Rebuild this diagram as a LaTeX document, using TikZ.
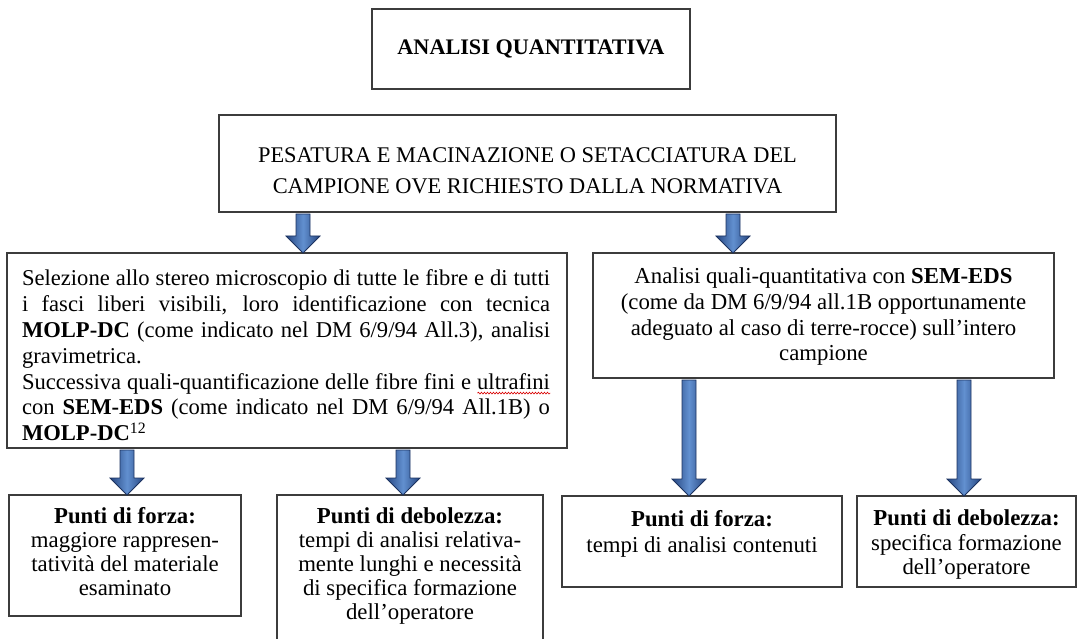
\documentclass[tikz,border=0pt]{standalone}
\usepackage{fontspec}
\setmainfont{Liberation Serif}
\usetikzlibrary{calc,decorations.pathmorphing}
\definecolor{boxgray}{RGB}{60,60,60}
\definecolor{arrowlight}{RGB}{98,144,208}
\definecolor{arrowedge}{RGB}{38,70,128}
\definecolor{arrowline}{RGB}{28,50,95}
\newsavebox{\wavebox}
\newcommand{\redwave}[1]{\sbox{\wavebox}{#1}\rlap{\tikz[baseline=0pt,x=1pt,y=1pt]{\draw[red!85!black,line width=0.6pt,decorate,decoration={snake,amplitude=0.9pt,segment length=3pt}] (0,-4) -- (\wd\wavebox,-4);}}\usebox{\wavebox}}
\newcommand{\blockarrow}[2]{%
  \draw[barrow] ($(#1)+(-7,0)$) -- ($(#2)+(-7,-17)$) -- ($(#2)+(-17,-17)$) -- (#2)
    -- ($(#2)+(17,-17)$) -- ($(#2)+(7,-17)$) -- ($(#1)+(7,0)$) -- cycle;}
\tikzset{
  box/.style={draw=boxgray, line width=1.3pt, fill=white, inner sep=0pt, outer sep=0pt, anchor=north west},
  txt/.style={inner sep=0pt, outer sep=0pt, align=center, font=\fontsize{22.8}{24.5}\selectfont},
  barrow/.style={draw=arrowline, line width=0.8pt, left color=arrowedge, right color=arrowedge, middle color=arrowlight},
}
\begin{document}
\begin{tikzpicture}[x=1pt,y=-1pt]
\useasboundingbox (0,0) rectangle (1077,639);
\clip (0,0) rectangle (1077,639);
% boxes
\node[box, minimum width=318pt, minimum height=80pt] (top) at (372,9) {};
\node[box, minimum width=617pt, minimum height=97pt] (pes) at (219,115) {};
\node[box, minimum width=560pt, minimum height=195pt] (sel) at (7,253) {};
\node[box, minimum width=461pt, minimum height=125pt] (sem) at (593,253) {};
\node[box, minimum width=232pt, minimum height=121pt] (f1) at (9,495) {};
\node[box, minimum width=266pt, minimum height=155pt] (d1) at (277,495) {};
\node[box, minimum width=280pt, minimum height=91pt] (f2) at (562,496) {};
\node[box, minimum width=219pt, minimum height=91pt] (d2) at (857,496) {};
% texts
\node[txt, font=\fontsize{22.2}{24.5}\selectfont] (toptxt) at (top.center) {\textbf{ANALISI QUANTITATIVA}};
\node[txt, font=\fontsize{22.4}{31}\selectfont] (pestxt) at ($(pes.center)+(0,7)$)
  {PESATURA E MACINAZIONE O SETACCIATURA DEL\\CAMPIONE OVE RICHIESTO DALLA NORMATIVA};
\node[txt, anchor=north west, text width=528pt, align=justify, font=\fontsize{22.6}{25.8}\selectfont] (seltxt) at (22,270)
  {Selezione allo stereo microscopio di tutte le fibre e di tutti\linebreak
   i fasci liberi visibili, loro identificazione con tecnica\linebreak
   \textbf{MOLP-DC} (come indicato nel DM 6/9/94 All.3), analisi\linebreak
   gravimetrica.\\
   Successiva quali-quantificazione delle fibre fini e \redwave{ultrafini}\linebreak
   con \textbf{SEM-EDS} (come indicato nel DM 6/9/94 All.1B) o\linebreak
   \textbf{MOLP-DC}\textsuperscript{12}};
\node[txt, anchor=north, font=\fontsize{22.8}{25.7}\selectfont] (semtxt) at ($(sem.north)+(0,15)$)
  {Analisi quali-quantitativa con \textbf{SEM-EDS}\\
   (come da DM 6/9/94 all.1B opportunamente\\
   adeguato al caso di terre-rocce) sull’intero\\
   campione};
\node[txt, anchor=north, font=\fontsize{22.8}{24}\selectfont] (f1txt) at ($(f1.north)+(0,12)$)
  {\textbf{Punti di forza:}\\maggiore rappresen-\\tatività del materiale\\esaminato};
\node[txt, anchor=north, font=\fontsize{22.8}{24}\selectfont] (d1txt) at ($(d1.north)+(0,13)$)
  {\textbf{Punti di debolezza:}\\tempi di analisi relativa-\\mente lunghi e necessità\\di specifica formazione\\dell’operatore};
\node[txt, anchor=north, font=\fontsize{22.8}{26}\selectfont] (f2txt) at ($(f2.north)+(0,14)$)
  {\textbf{Punti di forza:}\\tempi di analisi contenuti};
\node[txt, anchor=north, font=\fontsize{22.8}{24.5}\selectfont] (d2txt) at ($(d2.north)+(0,14)$)
  {\textbf{Punti di debolezza:}\\specifica formazione\\dell’operatore};
% arrow end points
\coordinate (a1s) at ($(303,0 |- pes.south)+(0,2)$);
\coordinate (a1e) at (303,0 |- sel.north);
\coordinate (a2s) at ($(733,0 |- pes.south)+(0,2)$);
\coordinate (a2e) at (733,0 |- sem.north);
\coordinate (a3s) at ($(127,0 |- sel.south)+(0,2)$);
\coordinate (a3e) at (127,0 |- f1.north);
\coordinate (a4s) at ($(403,0 |- sel.south)+(0,2)$);
\coordinate (a4e) at (403,0 |- d1.north);
\coordinate (a5s) at ($(689,0 |- sem.south)+(0,2)$);
\coordinate (a5e) at (689,0 |- f2.north);
\coordinate (a6s) at ($(964,0 |- sem.south)+(0,2)$);
\coordinate (a6e) at (964,0 |- d2.north);
\blockarrow{a1s}{a1e}
\blockarrow{a2s}{a2e}
\blockarrow{a3s}{a3e}
\blockarrow{a4s}{a4e}
\blockarrow{a5s}{a5e}
\blockarrow{a6s}{a6e}
\end{tikzpicture}
\end{document}
